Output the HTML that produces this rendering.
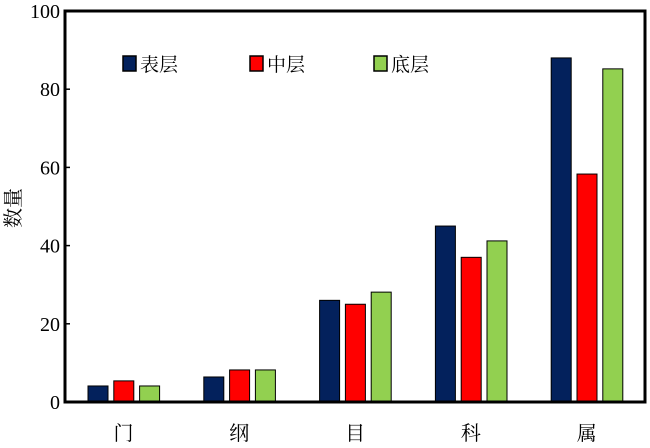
<!DOCTYPE html>
<html><head><meta charset="utf-8"><style>body{margin:0;background:#fff}</style></head>
<body>
<svg id="c" width="650" height="443" viewBox="0 0 650 443" xmlns="http://www.w3.org/2000/svg" style="font-family:'Liberation Serif','Noto Serif CJK SC',serif"></svg>
<script>
const categories=["门","纲","目","科","属"];
const seriesNames=["表层","中层","底层"];
const surface=[4.1,6.4,26,45,88];
const middle=[5.4,8.2,25,37,58.3];
const bottom=[4.1,8.2,28.1,41.2,85.2];
const yTicks=[0,20,40,60,80,100];
const colors=["#03215c","#ff0000","#92d050"];
const NS="http://www.w3.org/2000/svg";
const svg=document.getElementById('c');
const L=65,R=645,T=11,B=402;
function y(v){return B-(v/100)*(B-T);}
function gx(i){return 88+i*115.8;}
function mk(t,a,p){const e=document.createElementNS(NS,t);for(const k in a)e.setAttribute(k,a[k]);(p||svg).appendChild(e);return e;}
const series=[surface,middle,bottom];
series.forEach((s,si)=>{s.forEach((v,i)=>{
 const r=mk('rect',{x:gx(i)+si*25.8,y:y(v),width:20,height:B-y(v),fill:colors[si],stroke:'#000','stroke-width':1});
 
 
});});
const fr=mk('rect',{x:L,y:T,width:R-L,height:B-T,fill:'none',stroke:'#000','stroke-width':3});


yTicks.forEach(t=>{
 const ln=mk('line',{x1:L,x2:L+5,y1:y(t),y2:y(t),stroke:'#000','stroke-width':1.5});
 
 
 const tx=mk('text',{x:L-5,y:y(t)+7,'text-anchor':'end','font-size':20});
 tx.textContent=t;
 
 
});
categories.forEach((c,i)=>{
 const tx=mk('text',{x:gx(i)+35.5,y:440,'text-anchor':'middle','font-size':20});
 tx.textContent=c;
 
 
});
const yt=mk('text',{x:0,y:0,'text-anchor':'middle','font-size':20,transform:'translate(20,208) rotate(-90)'});
yt.textContent='数量';


const lx=[123,250,374];
seriesNames.forEach((n,i)=>{
 const g=mk('g',{});
 
 
 mk('rect',{x:lx[i],y:56,width:13,height:15,fill:colors[i],stroke:'#000','stroke-width':1.5},g);
 const t=mk('text',{x:lx[i]+17,y:71,'font-size':19},g);
 t.textContent=n;
});
</script>
</body></html>
